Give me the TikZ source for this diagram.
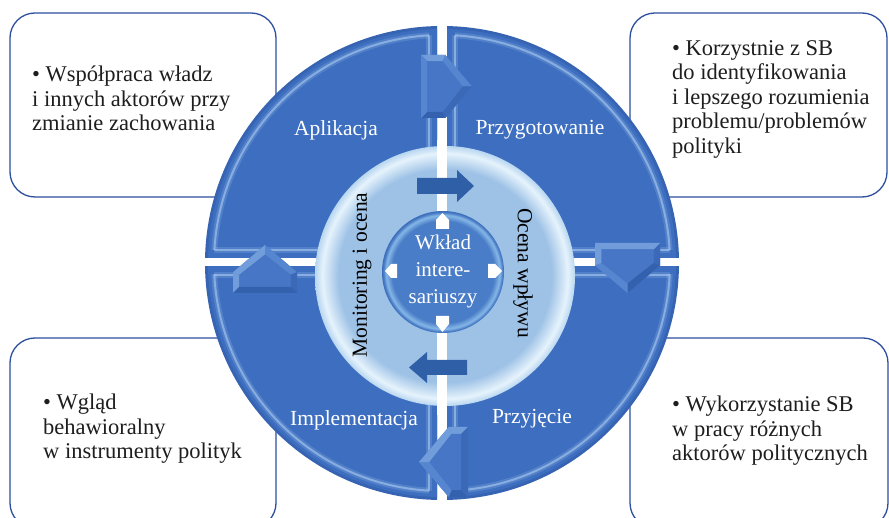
\documentclass[tikz,border=0pt]{standalone}
\usepackage{fontspec}
\setmainfont{Liberation Serif}
\usetikzlibrary{calc}

\definecolor{boxline}{HTML}{2B4F9E}
\definecolor{txt}{HTML}{1E1E1E}
\definecolor{quadfill}{HTML}{3D6EBF}
\definecolor{quadedge}{HTML}{3764B2}
\definecolor{quadhl}{HTML}{A4C6EE}
\definecolor{ringin}{HTML}{9EC2E6}
\definecolor{ringglow}{HTML}{E6F3FC}
\definecolor{ringedge}{HTML}{B8D6F0}
\definecolor{hubin}{HTML}{4A7DC7}
\definecolor{hubglow}{HTML}{86B8E8}
\definecolor{hubedge}{HTML}{3C6DB9}
\definecolor{flowarrow}{HTML}{2F60A7}
\definecolor{fLight}{HTML}{729DDB}
\definecolor{fMid}{HTML}{5686CF}
\definecolor{fFace}{HTML}{4676C5}
\definecolor{fDark}{HTML}{3B69B7}
\definecolor{fDeep}{HTML}{3361AE}

\pgfdeclareradialshading{ringshade}{\pgfpointorigin}{%
  color(0bp)=(ringin); color(20.5bp)=(ringin); color(23.6bp)=(ringglow);
  color(25bp)=(ringedge); color(50bp)=(ringedge)}
\pgfdeclareradialshading{hubshade}{\pgfpointorigin}{%
  color(0bp)=(hubin); color(21bp)=(hubin); color(23.3bp)=(hubglow);
  color(24.4bp)=(hubin); color(25bp)=(hubedge); color(50bp)=(hubedge)}

% One quarter of the cycle ring with a bevel highlight.
% #1 corner at the crossing of the gaps, #2 far corner, #3 inset corner
\newcommand\quadpart[3]{%
  \begin{scope}
    \clip #1 rectangle #2;
    \fill[quadedge] (ctr) circle (237);
    \fill[quadfill] (ctr) circle (234);
    \begin{scope}
      \clip (ctr) circle (228);
      \draw[hlwide] #3 rectangle #2;
      \draw[hlthin] #3 rectangle #2;
    \end{scope}
    \begin{scope}
      \clip #3 rectangle #2;
      \draw[hlwide] (ctr) circle (228);
      \draw[hlthin] (ctr) circle (228);
    \end{scope}
  \end{scope}}

% Bevelled pentagon arrow between two quarters.
% #1 back-edge midpoint, #2 rotation, #3 length, #4 half height,
% #5..#9 facet colours: top, upper slope, lower slope, bottom, back
\newcommand\bevarr[9]{%
  \begin{scope}[shift={#1}, rotate=#2]
    \pgfmathsetmacro\bL{#3}%
    \pgfmathsetmacro\bH{#4}%
    \pgfmathsetmacro\bS{#3-0.85*#4}%
    \pgfmathsetmacro\bD{0.2*#4}%
    \coordinate (oA) at (0,-\bH);
    \coordinate (oB) at (\bS,-\bH);
    \coordinate (oT) at (\bL,0);
    \coordinate (oD) at (\bS,\bH);
    \coordinate (oE) at (0,\bH);
    \coordinate (iA) at (\bD,-\bH+\bD);
    \coordinate (iB) at (\bS-0.4*\bD,-\bH+\bD);
    \coordinate (iT) at (\bL-1.5*\bD,0);
    \coordinate (iD) at (\bS-0.4*\bD,\bH-\bD);
    \coordinate (iE) at (\bD,\bH-\bD);
    \fill[fFace] (oA) -- (oB) -- (oT) -- (oD) -- (oE) -- cycle;
    \fill[#5] (oA) -- (oB) -- (iB) -- (iA) -- cycle;
    \fill[#6] (oB) -- (oT) -- (iT) -- (iB) -- cycle;
    \fill[#7] (oT) -- (oD) -- (iD) -- (iT) -- cycle;
    \fill[#8] (oD) -- (oE) -- (iE) -- (iD) -- cycle;
    \fill[#9] (oE) -- (oA) -- (iA) -- (iE) -- cycle;
    \fill[fFace] (iA) -- (iB) -- (iT) -- (iD) -- (iE) -- cycle;
  \end{scope}}

\begin{document}
\begin{tikzpicture}[x=1pt, y=-1pt,
  infobox/.style={draw=boxline, line width=1.3pt, fill=white, rounded corners=25pt},
  boxtext/.style={anchor=north west, align=left, inner sep=0pt, text=txt,
    font=\fontsize{22.5}{24.5}\selectfont},
  qlabel/.style={text=white, inner sep=0pt, font=\fontsize{21.5}{24}\selectfont},
  ringtext/.style={text=black, inner sep=0pt, font=\fontsize{21.5}{24}\selectfont},
  hubtext/.style={text=white, align=center, inner sep=0pt,
    font=\fontsize{21}{27}\selectfont},
  hlwide/.style={draw=quadhl, line width=6pt, opacity=0.22},
  hlthin/.style={draw=quadhl, line width=2pt, opacity=0.65},
  tipwhite/.style={fill=white}]

\clip (0,0) rectangle (889,518);
\fill[white] (0,0) rectangle (889,518);

% corner boxes
\draw[infobox] (10,13) rectangle (276,197);
\draw[infobox] (630,13) rectangle (887,197);
\draw[infobox] (10,338) rectangle (276,528);
\draw[infobox] (630,338) rectangle (888,528);

% the four quarters of the ring
\coordinate (ctr) at (442,263);
\quadpart{(437,258)}{(150,-40)}{(429,250)}
\quadpart{(447,258)}{(740,-40)}{(455,250)}
\quadpart{(437,267)}{(150,560)}{(429,275)}
\quadpart{(447,267)}{(740,560)}{(455,275)}

% light inner disc with the vertical gap running through it
\shade[shading=ringshade] (445,276) circle (130);
\fill[white] (437,140) rectangle (447,415);

% arrows between the quarters
\bevarr{(421,86.5)}{0}{51}{31.5}{fLight}{fMid}{fDark}{fDeep}{fMid}
\bevarr{(627.5,243)}{-90}{50}{32.5}{fDark}{fDeep}{fMid}{fLight}{fLight}
\bevarr{(468,462)}{180}{49}{35}{fDeep}{fMid}{fLight}{fLight}{fDark}
\bevarr{(265,293)}{90}{48}{32}{fLight}{fLight}{fMid}{fDark}{fDeep}

% flow arrows on the inner disc
\fill[flowarrow] (417,178) -- (457,178) -- (457,170) -- (474,186)
  -- (457,202) -- (457,194) -- (417,194) -- cycle;
\fill[flowarrow] (467,360) -- (427,360) -- (427,352) -- (409,367.5)
  -- (427,383) -- (427,375) -- (467,375) -- cycle;

% central hub
\shade[shading=hubshade] (443,272) circle (61);
\fill[tipwhite] (436,229) -- (436,220) -- (442.5,213) -- (449,220) -- (449,229) -- cycle;
\fill[tipwhite] (436,316) -- (436,324) -- (442.5,332) -- (449,324) -- (449,316) -- cycle;
\fill[tipwhite] (397,264) -- (391,264) -- (385,271) -- (391,278) -- (397,278) -- cycle;
\fill[tipwhite] (488,264) -- (495,264) -- (502,271) -- (495,278) -- (488,278) -- cycle;

% labels
\node[hubtext] (hubText) at (443,271) {Wkład\\intere-\\sariuszy};
\node[ringtext, rotate=90] (monText) at (362,275) {Monitoring i ocena};
\node[ringtext, rotate=-90] (impText) at (523,273) {Ocena wpływu};
\node[qlabel] (lblApp) at (336,130) {Aplikacja};
\node[qlabel] (lblPrep) at (540,130) {Przygotowanie};
\node[qlabel] (lblImpl) at (354,420) {Implementacja};
\node[qlabel] (lblAdopt) at (532,419) {Przyjęcie};

\node[boxtext] (tlText) at (32,66) {• Współpraca władz\\i innych aktorów przy\\zmianie zachowania};
\node[boxtext] (trText) at (672,40) {• Korzystnie z SB\\do identyfikowania\\i lepszego rozumienia\\problemu/problemów\\polityki};
\node[boxtext] (blText) at (43,394) {• Wgląd\\behawioralny\\w instrumenty polityk};
\node[boxtext] (brText) at (672,396) {• Wykorzystanie SB\\w pracy różnych\\aktorów politycznych};
\end{tikzpicture}
\end{document}
